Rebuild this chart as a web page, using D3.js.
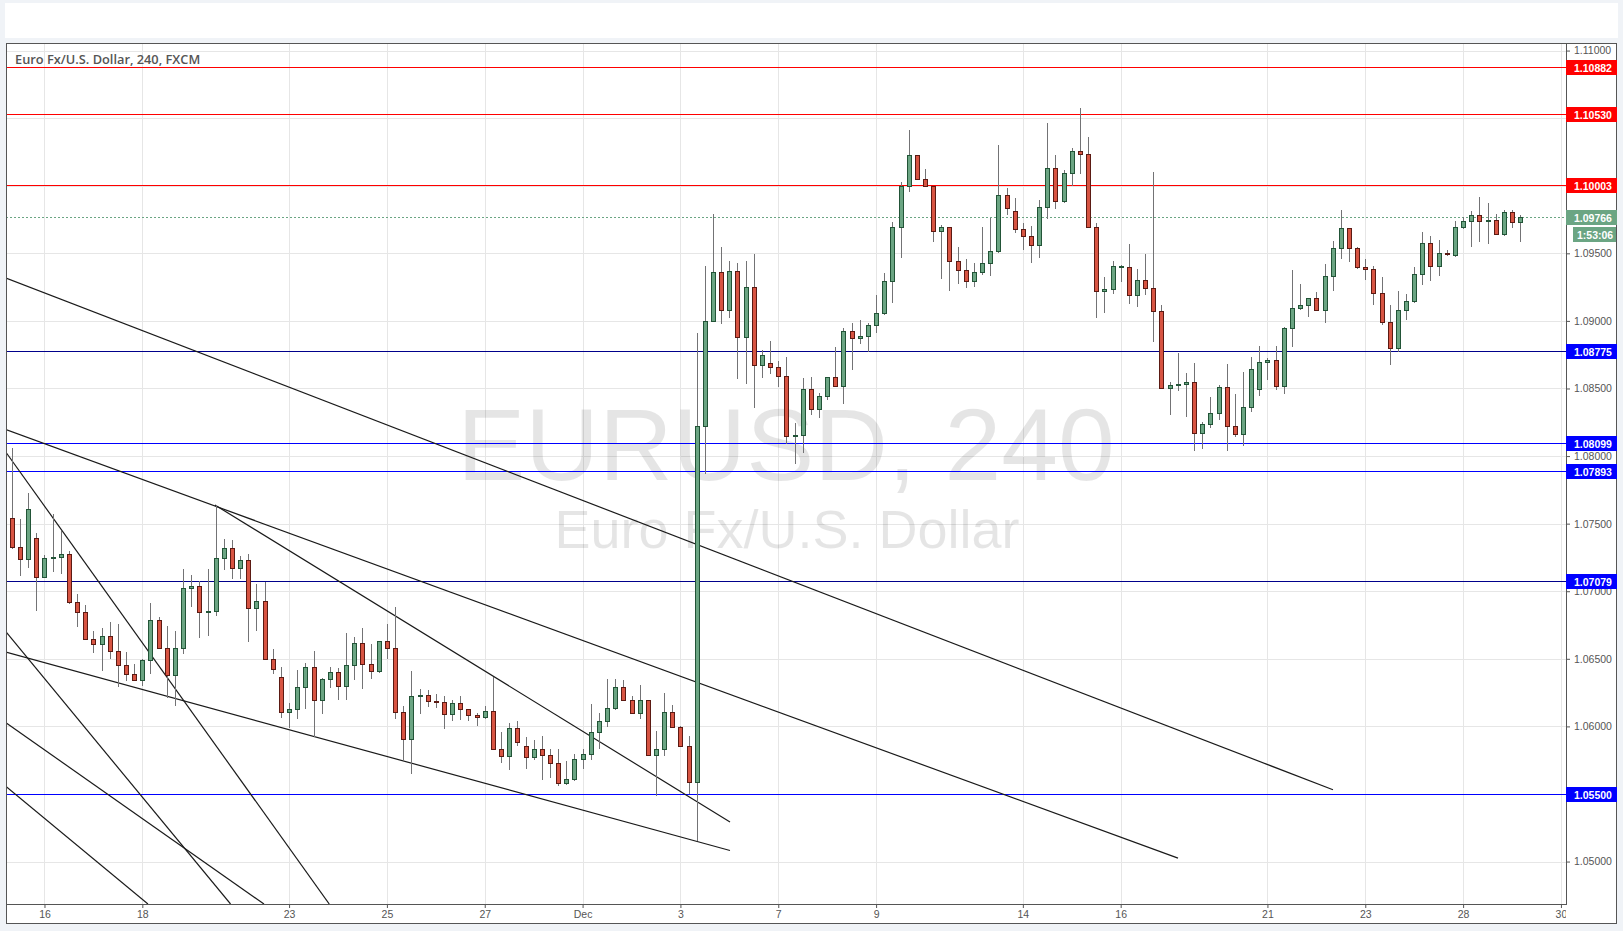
<!DOCTYPE html>
<html><head><meta charset="utf-8">
<script src="https://cdn.jsdelivr.net/npm/d3@7"></script>
<style>
html,body{margin:0;padding:0;background:#f0f3f7;overflow:hidden;}
svg{display:block;}
</style></head><body>
<svg id="c" width="1623" height="931"></svg>
<script>
// ---------- DATA (EUR/USD, 4h candles, FXCM) ----------
const opens = [1.07540,1.07329,1.07236,1.07392,1.07103,1.07246,1.07251,1.07275,1.06922,1.06848,
1.06649,1.06612,1.06668,1.06560,1.06453,1.06388,1.06345,1.06489,1.06785,1.06578,
1.06381,1.06578,1.07022,1.07039,1.06848,1.06852,1.07244,1.07318,1.07170,1.07231,
1.06874,1.06925,1.06496,1.06363,1.06109,1.06127,1.06291,1.06441,1.06193,1.06348,
1.06400,1.06301,1.06452,1.06615,1.06459,1.06413,1.06629,1.06578,1.06104,1.05905,
1.06222,1.06232,1.06186,1.06183,1.06090,1.06171,1.06127,1.06082,1.06067,1.06112,
1.05831,1.05779,1.05986,1.05857,1.05771,1.05831,1.05786,1.05727,1.05579,1.05609,
1.05757,1.05794,1.05957,1.06038,1.06134,1.06291,1.06193,1.06097,1.06193,1.05786,
1.05831,1.06104,1.05998,1.05853,1.05586,1.08223,1.08999,1.09359,1.09078,1.09366,
1.08879,1.09248,1.08671,1.08686,1.08656,1.08590,1.08146,1.08154,1.08494,1.08346,
1.08445,1.08583,1.08516,1.08923,1.08871,1.08890,1.08967,1.09056,1.09292,1.09692,
1.10000,1.10225,1.10047,1.09995,1.09662,1.09692,1.09446,1.09380,1.09298,1.09361,
1.09426,1.09514,1.09929,1.09810,1.09677,1.09625,1.09559,1.09840,1.10129,1.09885,
1.10092,1.10255,1.10233,1.09692,1.09218,1.09233,1.09398,1.09398,1.09189,1.09301,
1.09242,1.09072,1.08503,1.08523,1.08533,1.08548,1.08168,1.08235,1.08316,1.08509,
1.08225,1.08161,1.08361,1.08495,1.08694,1.08709,1.08519,1.08944,1.09093,1.09115,
1.09168,1.09079,1.09331,1.09538,1.09686,1.09538,1.09401,1.09382,1.09205,1.08990,
1.08796,1.09079,1.09144,1.09346,1.09574,1.09405,1.09500,1.09486,1.09692,1.09737,
1.09781,1.09737,1.09745,1.09641,1.09803,1.09730];
const highs = [1.08058,1.07532,1.07725,1.07429,1.07268,1.07571,1.07448,1.07298,1.06979,1.06898,
1.06706,1.06730,1.06774,1.06757,1.06550,1.06461,1.06496,1.06913,1.06807,1.06743,
1.06706,1.07164,1.07120,1.07078,1.07162,1.07638,1.07386,1.07379,1.07261,1.07275,
1.07053,1.07070,1.06572,1.06439,1.06171,1.06417,1.06471,1.06560,1.06356,1.06437,
1.06430,1.06693,1.06663,1.06726,1.06609,1.06632,1.06757,1.06885,1.06153,1.06410,
1.06276,1.06269,1.06239,1.06225,1.06196,1.06225,1.06130,1.06097,1.06151,1.06368,
1.05961,1.06023,1.06040,1.05919,1.05899,1.05929,1.05831,1.05833,1.05744,1.05796,
1.05831,1.06166,1.06097,1.06348,1.06348,1.06343,1.06225,1.06306,1.06196,1.05966,
1.06250,1.06158,1.06001,1.05929,1.08912,1.09406,1.09790,1.09548,1.09443,1.09428,
1.09443,1.09494,1.08785,1.08853,1.08701,1.08730,1.08243,1.08575,1.08587,1.08469,
1.08586,1.08810,1.08950,1.08987,1.09006,1.08982,1.09191,1.09352,1.09733,1.10029,
1.10412,1.10228,1.10123,1.09998,1.09709,1.09695,1.09546,1.09457,1.09426,1.09694,
1.09763,1.10301,1.09981,1.09907,1.09724,1.09702,1.09894,1.10462,1.10227,1.10116,
1.10281,1.10577,1.10357,1.09724,1.09324,1.09443,1.09413,1.09568,1.09382,1.09494,
1.10101,1.09117,1.08550,1.08761,1.08617,1.08690,1.08250,1.08437,1.08524,1.08678,
1.08459,1.08622,1.08734,1.08815,1.08726,1.08815,1.08952,1.09376,1.09272,1.09171,
1.09214,1.09420,1.09594,1.09820,1.09689,1.09546,1.09457,1.09405,1.09324,1.09117,
1.09221,1.09196,1.09398,1.09657,1.09627,1.09598,1.09524,1.09738,1.09771,1.09813,
1.09919,1.09875,1.09791,1.09820,1.09820,1.09783];
const lows = [1.07318,1.07120,1.07181,1.06861,1.07103,1.07151,1.07133,1.06911,1.06743,1.06649,
1.06550,1.06417,1.06504,1.06299,1.06343,1.06345,1.06306,1.06397,1.06578,1.06219,
1.06158,1.06545,1.06891,1.06663,1.06676,1.06824,1.07164,1.07096,1.07100,1.06634,
1.06713,1.06496,1.06397,1.06072,1.05993,1.06060,1.06134,1.05929,1.06102,1.06293,
1.06200,1.06205,1.06348,1.06282,1.06356,1.06404,1.06508,1.06060,1.05757,1.05658,
1.06097,1.06153,1.06146,1.05991,1.06047,1.06053,1.06047,1.06013,1.06064,1.05831,
1.05739,1.05682,1.05865,1.05690,1.05757,1.05613,1.05628,1.05564,1.05576,1.05606,
1.05694,1.05761,1.05838,1.06003,1.06131,1.06193,1.06097,1.06060,1.05786,1.05492,
1.05790,1.05998,1.05853,1.05510,1.05160,1.07873,1.08996,1.08982,1.09031,1.08575,
1.08538,1.08361,1.08583,1.08617,1.08520,1.08099,1.07947,1.08032,1.08311,1.08287,
1.08420,1.08516,1.08390,1.08645,1.08834,1.08775,1.08919,1.09051,1.09142,1.09472,
1.09963,1.10047,1.09995,1.09593,1.09319,1.09228,1.09281,1.09251,1.09259,1.09350,
1.09342,1.09511,1.09789,1.09659,1.09530,1.09438,1.09472,1.09758,1.09833,1.09877,
1.10005,1.10092,1.09692,1.09031,1.09068,1.09209,1.09298,1.09135,1.09113,1.09202,
1.08853,1.08503,1.08309,1.08487,1.08299,1.08045,1.08058,1.08217,1.08277,1.08047,
1.08146,1.08080,1.08331,1.08455,1.08569,1.08497,1.08467,1.08816,1.09090,1.09039,
1.09079,1.08989,1.09231,1.09468,1.09443,1.09394,1.09313,1.09128,1.08980,1.08682,
1.08781,1.09017,1.09141,1.09276,1.09306,1.09336,1.09490,1.09483,1.09685,1.09556,
1.09594,1.09579,1.09641,1.09638,1.09697,1.09594];
const closes = [1.07329,1.07236,1.07606,1.07103,1.07244,1.07250,1.07275,1.06922,1.06848,1.06649,
1.06612,1.06668,1.06560,1.06453,1.06388,1.06345,1.06489,1.06785,1.06578,1.06381,
1.06578,1.07022,1.07039,1.06848,1.06852,1.07244,1.07318,1.07170,1.07231,1.06874,
1.06925,1.06496,1.06422,1.06109,1.06127,1.06291,1.06441,1.06193,1.06348,1.06400,
1.06301,1.06452,1.06615,1.06459,1.06413,1.06629,1.06578,1.06104,1.05905,1.06225,
1.06232,1.06186,1.06183,1.06090,1.06171,1.06127,1.06082,1.06067,1.06112,1.05831,
1.05779,1.05986,1.05882,1.05771,1.05831,1.05786,1.05727,1.05579,1.05609,1.05757,
1.05794,1.05957,1.06038,1.06134,1.06291,1.06193,1.06097,1.06193,1.05786,1.05831,
1.06104,1.05998,1.05853,1.05586,1.08223,1.08999,1.09359,1.09078,1.09366,1.08879,
1.09248,1.08671,1.08745,1.08656,1.08590,1.08146,1.08154,1.08494,1.08346,1.08445,
1.08583,1.08516,1.08923,1.08871,1.08890,1.08967,1.09056,1.09292,1.09692,1.10000,
1.10225,1.10047,1.09995,1.09662,1.09692,1.09446,1.09380,1.09298,1.09361,1.09426,
1.09514,1.09929,1.09833,1.09677,1.09625,1.09559,1.09840,1.10129,1.09885,1.10092,
1.10255,1.10233,1.09692,1.09218,1.09233,1.09404,1.09408,1.09189,1.09301,1.09242,
1.09072,1.08503,1.08523,1.08533,1.08548,1.08168,1.08235,1.08316,1.08509,1.08225,
1.08161,1.08361,1.08643,1.08694,1.08709,1.08519,1.08944,1.09093,1.09115,1.09168,
1.09079,1.09331,1.09538,1.09686,1.09538,1.09401,1.09382,1.09205,1.08990,1.08796,
1.09079,1.09144,1.09346,1.09574,1.09405,1.09500,1.09493,1.09692,1.09737,1.09781,
1.09737,1.09745,1.09641,1.09803,1.09730,1.09766];

// x-axis day labels (candle index where each labelled day starts)
const dayTickIndex  = [4,16,34,46,58,70,82,94,106,124,136,154,166,178,190];
const dayTickLabels = ["16","18","23","25","27","Dec","3","7","9","14","16","21","23","28","30"];
// price axis ticks
const priceTicks = [1.050,1.055,1.060,1.065,1.070,1.075,1.080,1.085,1.090,1.095,1.100,1.105,1.110];
// horizontal levels
const resistanceLevels = [1.10882,1.10530,1.10003];
const supportLevels    = [1.08775,1.08099,1.07893,1.07079,1.05500];
const supportLineColors = ["#00008b","#0000ff","#0000ff","#00008b","#0000ff"];
const lastPrice = 1.09766;
const countdownText = "1:53:06";
// trend lines: [candleIndex, price] pairs
const trendStart = [[-0.72,1.09317],[-0.72,1.08196],[24.91,1.07638],[-0.72,1.06550],[-0.64,1.08021],[-0.64,1.06693],[-0.64,1.06023],[-0.72,1.05555]];
const trendEnd   = [[162.04,1.05531],[143.03,1.05025],[88.08,1.05293],[88.08,1.05082],[38.93,1.04686],[26.82,1.04686],[30.92,1.04686],[16.69,1.04686]];
const titleText = "Euro Fx/U.S. Dollar, 240, FXCM";
const watermark1 = "EURUSD, 240";
const watermark2 = "Euro Fx/U.S. Dollar";

// ---------- LAYOUT ----------
const W = 1623, H = 931;
const P = {left: 6, right: 1566, top: 43, bottom: 904};
const x = d3.scaleLinear().domain([-0.72, 190.62]).range([P.left, P.right]);
const y = d3.scaleLinear().domain([1.04686, 1.11056]).range([P.bottom, P.top]);
const px = v => Math.round(v) + 0.5;

const svg = d3.select("#c");
svg.append("rect").attr("width", W).attr("height", H).attr("fill", "#f0f3f7");
svg.append("rect").attr("x", 5).attr("y", 3).attr("width", 1613).attr("height", 35).attr("fill", "#ffffff");
svg.append("rect").attr("x", 6).attr("y", 43).attr("width", 1611).attr("height", 881).attr("fill", "#ffffff");

const defs = svg.append("defs");
defs.append("clipPath").attr("id", "plotClip").append("rect")
  .attr("x", P.left).attr("y", P.top).attr("width", P.right - P.left).attr("height", P.bottom - P.top);
defs.append("clipPath").attr("id", "xlabClip").append("rect")
  .attr("x", P.left).attr("y", P.bottom).attr("width", P.right - P.left).attr("height", 20);

const plot = svg.append("g").attr("clip-path", "url(#plotClip)");

// grid
plot.append("g").selectAll("line").data(priceTicks).join("line")
  .attr("x1", P.left).attr("x2", P.right)
  .attr("y1", d => px(y(d))).attr("y2", d => px(y(d)))
  .attr("stroke", "#e6e6e6").attr("stroke-width", 1);
plot.append("g").selectAll("line").data(dayTickIndex).join("line")
  .attr("x1", d => px(x(d))).attr("x2", d => px(x(d)))
  .attr("y1", P.top).attr("y2", P.bottom)
  .attr("stroke", "#e6e6e6").attr("stroke-width", 1);

// watermark
const cx = (P.left + P.right) / 2;
plot.append("text").text(watermark1).attr("x", cx).attr("y", 480)
  .attr("text-anchor", "middle").attr("font-family", "'Liberation Sans', Arial, sans-serif")
  .attr("font-size", 102).attr("fill", "rgba(0,0,0,0.1)");
plot.append("text").text(watermark2).attr("x", cx + 1).attr("y", 548)
  .attr("text-anchor", "middle").attr("font-family", "'Liberation Sans', Arial, sans-serif")
  .attr("font-size", 54).attr("fill", "rgba(0,0,0,0.1)");

// horizontal levels
const levels = resistanceLevels.map(v => ({v, c: "#ff0000", lc: "#ff0000"}))
  .concat(supportLevels.map((v, i) => ({v, c: "#0000ff", lc: supportLineColors[i]})));
plot.append("g").selectAll("line").data(levels).join("line")
  .attr("x1", P.left).attr("x2", P.right)
  .attr("y1", d => px(y(d.v))).attr("y2", d => px(y(d.v)))
  .attr("stroke", d => d.lc).attr("stroke-width", 1);

// last price dotted line
plot.append("line").attr("x1", P.left).attr("x2", P.right)
  .attr("y1", px(y(lastPrice))).attr("y2", px(y(lastPrice)))
  .attr("stroke", "#6ba583").attr("stroke-width", 1).attr("stroke-dasharray", "2,2");

// trend lines
plot.append("g").selectAll("line").data(d3.range(trendStart.length)).join("line")
  .attr("x1", i => x(trendStart[i][0])).attr("y1", i => y(trendStart[i][1]))
  .attr("x2", i => x(trendEnd[i][0])).attr("y2", i => y(trendEnd[i][1]))
  .attr("stroke", "#1a1a1a").attr("stroke-width", 1.2);

// candles
const idx = d3.range(opens.length);
const cg = plot.append("g");
cg.selectAll("line").data(idx).join("line")
  .attr("x1", i => px(x(i))).attr("x2", i => px(x(i)))
  .attr("y1", i => Math.round(y(highs[i]))).attr("y2", i => Math.round(y(lows[i])) + 1)
  .attr("stroke", "#737375").attr("stroke-width", 1);
cg.selectAll("rect").data(idx).join("rect")
  .attr("x", i => Math.round(x(i)) - 2 + 0.5)
  .attr("width", 4)
  .attr("y", i => Math.round(y(Math.max(opens[i], closes[i]))) + 0.5)
  .attr("height", i => Math.max(1, Math.round(y(Math.min(opens[i], closes[i]))) - Math.round(y(Math.max(opens[i], closes[i])))))
  .attr("fill", i => closes[i] >= opens[i] ? "#6ba583" : "#d75442")
  .attr("stroke", i => closes[i] >= opens[i] ? "#225437" : "#5b1a13")
  .attr("stroke-width", 1);

// level values drawn as boxes on the axis hide the ticks right under them
const allLabels = levels.concat([{v: lastPrice, c: "#6ba583"}]);
const visibleTicks = priceTicks.filter(t => allLabels.every(l => Math.abs(y(t) - y(l.v)) > 8));

// price axis
const yAxis = svg.append("g").attr("transform", `translate(${P.right},0)`)
  .call(d3.axisRight(y).tickValues(visibleTicks).tickFormat(d3.format(".5f")).tickSize(4).tickPadding(4));
yAxis.select(".domain").remove();
yAxis.selectAll(".tick line").attr("stroke", "#555");
yAxis.selectAll(".tick text").attr("fill", "#555").attr("font-size", 10.5)
  .attr("font-family", "'Liberation Sans', Arial, sans-serif");

// time axis
const xWrap = svg.append("g").attr("clip-path", "url(#xlabClip)");
const xAxis = xWrap.append("g").attr("transform", `translate(0,${P.bottom})`)
  .call(d3.axisBottom(x).tickValues(dayTickIndex).tickFormat((d, i) => dayTickLabels[i]).tickSize(4).tickPadding(3));
xAxis.select(".domain").remove();
xAxis.selectAll(".tick line").attr("stroke", "#555");
xAxis.selectAll(".tick text").attr("fill", "#555").attr("font-size", 10.5)
  .attr("font-family", "'Liberation Sans', Arial, sans-serif");

// frame and axis lines
svg.append("rect").attr("x", 6.5).attr("y", 43.5).attr("width", 1610).attr("height", 880)
  .attr("fill", "none").attr("stroke", "#555");
svg.append("line").attr("x1", P.right + 0.5).attr("x2", P.right + 0.5).attr("y1", P.top).attr("y2", P.bottom + 1)
  .attr("stroke", "#555");
svg.append("line").attr("x1", P.left).attr("x2", P.right + 1).attr("y1", P.bottom + 0.5).attr("y2", P.bottom + 0.5)
  .attr("stroke", "#555");

// level labels on the price axis
const lab = svg.append("g");
lab.selectAll("rect").data(allLabels).join("rect")
  .attr("x", P.right).attr("width", 51)
  .attr("y", d => Math.round(y(d.v)) - 7).attr("height", 15)
  .attr("fill", d => d.c);
lab.selectAll("text").data(allLabels).join("text")
  .attr("x", P.right + 8).attr("y", d => Math.round(y(d.v)) + 4.5)
  .text(d => d3.format(".5f")(d.v))
  .attr("fill", "#fff").attr("font-weight", "bold").attr("font-size", 10.5)
  .attr("font-family", "'Liberation Sans', Arial, sans-serif");
const ly = Math.round(y(lastPrice));
lab.append("rect").attr("x", P.right + 7).attr("width", 43).attr("y", ly + 10).attr("height", 15).attr("fill", "#6ba583");
lab.append("text").attr("x", P.right + 11).attr("y", ly + 21.5).text(countdownText)
  .attr("fill", "#fff").attr("font-weight", "bold").attr("font-size", 10.5)
  .attr("font-family", "'Liberation Sans', Arial, sans-serif");

// title
svg.append("text").attr("x", 15).attr("y", 64).text(titleText)
  .attr("fill", "#555").attr("font-weight", 600).attr("font-size", 12.8)
  .attr("font-family", "'Open Sans', 'Liberation Sans', sans-serif");
</script>
</body></html>
